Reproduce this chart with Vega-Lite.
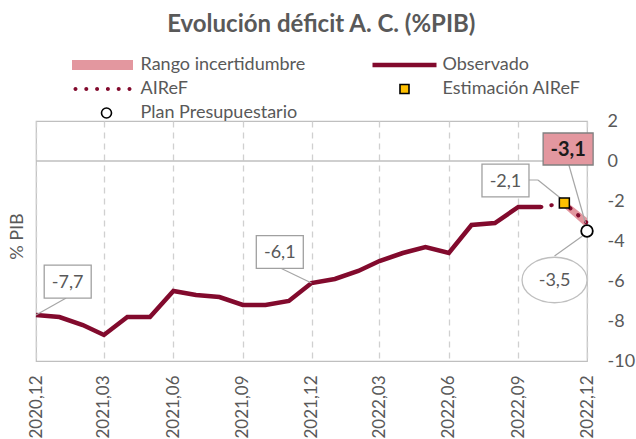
{
  "$schema": "https://vega.github.io/schema/vega-lite/v6.json",
  "width": 551,
  "height": 240,
  "autosize": {"type": "none"},
  "padding": {"left": 36, "top": 121, "right": 49, "bottom": 78},
  "background": "white",
  "title": {
    "text": "Evolución déficit A. C. (%PIB)",
    "font": "Lato",
    "fontSize": 24,
    "fontWeight": "bold",
    "color": "#595959",
    "anchor": "middle",
    "frame": "bounds",
    "offset": 17
  },
  "config": {
    "view": {"stroke": "#BFBFBF", "strokeWidth": 1.2},
    "text": {"font": "Lato"},
    "axis": {"labelFont": "Lato", "titleFont": "Lato"}
  },
  "datasets": {
    "obs": [
      {"date": "2020-12-01", "value": -7.7},
      {"date": "2021-01-01", "value": -7.8},
      {"date": "2021-02-01", "value": -8.2},
      {"date": "2021-03-01", "value": -8.7},
      {"date": "2021-04-01", "value": -7.8},
      {"date": "2021-05-01", "value": -7.8},
      {"date": "2021-06-01", "value": -6.5},
      {"date": "2021-07-01", "value": -6.7},
      {"date": "2021-08-01", "value": -6.8},
      {"date": "2021-09-01", "value": -7.2},
      {"date": "2021-10-01", "value": -7.2},
      {"date": "2021-11-01", "value": -7.0},
      {"date": "2021-12-01", "value": -6.1},
      {"date": "2022-01-01", "value": -5.9},
      {"date": "2022-02-01", "value": -5.5},
      {"date": "2022-03-01", "value": -5.0},
      {"date": "2022-04-01", "value": -4.6},
      {"date": "2022-05-01", "value": -4.3},
      {"date": "2022-06-01", "value": -4.6},
      {"date": "2022-07-01", "value": -3.2},
      {"date": "2022-08-01", "value": -3.1},
      {"date": "2022-09-01", "value": -2.3},
      {"date": "2022-10-01", "value": -2.3}
    ],
    "airef": [
      {"date": "2022-10-01", "value": -2.3},
      {"date": "2022-11-01", "value": -2.1},
      {"date": "2022-12-01", "value": -3.1}
    ],
    "band": [
      {"date": "2022-11-01", "lo": -2.35, "hi": -1.95},
      {"date": "2022-12-01", "lo": -3.35, "hi": -2.85}
    ],
    "est": [{"date": "2022-11-01", "value": -2.1}],
    "plan": [{"date": "2022-12-01", "value": -3.5}],
    "leaders": [
      {"d1": "2021-01-10", "v1": -6.85, "d2": "2020-12-01", "v2": -7.7},
      {"d1": "2021-10-20", "v1": -5.34, "d2": "2021-12-01", "v2": -6.1},
      {"d1": "2022-08-15", "v1": -0.95, "d2": "2022-09-27", "v2": -0.95},
      {"d1": "2022-09-27", "v1": -0.95, "d2": "2022-10-30", "v2": -1.95},
      {"d1": "2022-11-07", "v1": -0.2, "d2": "2022-11-29", "v2": -3.1},
      {"d1": "2022-10-19", "v1": -4.75, "d2": "2022-11-25", "v2": -3.75}
    ],
    "labels": [
      {"label": "-7,7", "d": "2021-01-12", "v": -6.03, "kind": "box"},
      {"label": "-6,1", "d": "2021-10-20", "v": -4.55, "kind": "box"},
      {"label": "-2,1", "d": "2022-08-15", "v": -0.975, "kind": "box"},
      {"label": "-3,1", "d": "2022-11-06", "v": 0.6, "kind": "bold"},
      {"label": "-3,5", "d": "2022-10-19", "v": -5.95, "kind": "ellipse"}
    ],
    "legend": [
      {"series": "Rango incertidumbre"},
      {"series": "AIReF"},
      {"series": "Plan Presupuestario"},
      {"series": "Observado"},
      {"series": "Estimación AIReF"}
    ]
  },
  "layer": [
    {
      "data": {"values": [{}]},
      "mark": {"type": "rule", "color": "#BFBFBF", "strokeWidth": 1.5},
      "encoding": {
        "y": {
          "datum": 0,
          "type": "quantitative",
          "scale": {"domain": [-10, 2], "nice": false, "zero": false},
          "axis": {
            "orient": "left",
            "title": "% PIB",
            "labels": false,
            "ticks": false,
            "tickSize": 0,
            "domain": false,
            "grid": false,
            "titleFontSize": 18,
            "titleFontWeight": "normal",
            "titleColor": "#595959",
            "titlePadding": 10,
            "titleY": 115
          }
        }
      }
    },
    {
      "layer": [
        {
          "data": {"name": "band"},
          "mark": {"type": "area", "color": "#E3979F"},
          "encoding": {
            "x": {
              "field": "date",
              "type": "temporal",
              "scale": {
                "type": "utc",
                "nice": false,
                "domain": [
                  {"year": 2020, "month": 12, "date": 1, "utc": true},
                  {"year": 2022, "month": 12, "date": 1, "utc": true}
                ]
              },
              "axis": {
                "title": null,
                "values": [
                  {"year": 2020, "month": 12, "date": 1, "utc": true},
                  {"year": 2021, "month": 3, "date": 1, "utc": true},
                  {"year": 2021, "month": 6, "date": 1, "utc": true},
                  {"year": 2021, "month": 9, "date": 1, "utc": true},
                  {"year": 2021, "month": 12, "date": 1, "utc": true},
                  {"year": 2022, "month": 3, "date": 1, "utc": true},
                  {"year": 2022, "month": 6, "date": 1, "utc": true},
                  {"year": 2022, "month": 9, "date": 1, "utc": true},
                  {"year": 2022, "month": 12, "date": 1, "utc": true}
                ],
                "tickCount": 30,
                "labelExpr": "utcFormat(datum.value, '%Y,%m')",
                "labelAngle": -90,
                "labelFontSize": 17,
                "labelColor": "#595959",
                "labelPadding": 14,
                "labelFlush": false,
                "labelOverlap": false,
                "ticks": false,
                "tickSize": 0,
                "domain": false,
                "grid": true,
                "gridColor": "#D0D0D0",
                "gridDash": [6, 5],
                "gridWidth": 1.3
              }
            },
            "y": {
              "field": "lo",
              "type": "quantitative",
              "scale": {"domain": [-10, 2], "nice": false, "zero": false},
              "axis": {
                "orient": "right",
                "title": null,
                "values": [2, 0, -2, -4, -6, -8, -10],
                "tickCount": 20,
                "labelExpr": "'' + datum.value",
                "labelFontSize": 18,
                "labelColor": "#595959",
                "labelPadding": 20,
                "labelAlign": "left",
                "labelFlush": false,
                "labelOverlap": false,
                "ticks": false,
                "tickSize": 0,
                "domain": false,
                "grid": false
              }
            },
            "y2": {"field": "hi"}
          }
        },
        {
          "data": {"name": "obs"},
          "mark": {"type": "line", "color": "#820A2D", "strokeWidth": 4.5},
          "encoding": {
            "x": {"field": "date", "type": "temporal"},
            "y": {"field": "value", "type": "quantitative"}
          }
        },
        {
          "data": {"name": "airef"},
          "mark": {"type": "line", "color": "#820A2D", "strokeWidth": 4, "strokeDash": [0.5, 10], "strokeCap": "round"},
          "encoding": {
            "x": {"field": "date", "type": "temporal"},
            "y": {"field": "value", "type": "quantitative"}
          }
        },
        {
          "data": {"name": "leaders"},
          "mark": {"type": "rule", "color": "#A6A6A6", "strokeWidth": 1.2},
          "encoding": {
            "x": {"field": "d1", "type": "temporal"},
            "x2": {"field": "d2"},
            "y": {"field": "v1", "type": "quantitative"},
            "y2": {"field": "v2"}
          }
        },
        {
          "data": {"name": "est"},
          "mark": {"type": "point", "shape": "square", "size": 100, "filled": true, "fill": "#FFC000", "stroke": "#000000", "strokeWidth": 1.5, "opacity": 1},
          "encoding": {
            "x": {"field": "date", "type": "temporal"},
            "y": {"field": "value", "type": "quantitative"}
          }
        },
        {
          "data": {"name": "plan"},
          "mark": {"type": "point", "shape": "circle", "size": 135, "filled": true, "fill": "#FFFFFF", "stroke": "#000000", "strokeWidth": 1.8, "opacity": 1},
          "encoding": {
            "x": {"field": "date", "type": "temporal"},
            "y": {"field": "value", "type": "quantitative"}
          }
        },
        {
          "data": {"name": "labels"},
          "transform": [{"filter": "datum.kind === 'box'"}],
          "mark": {"type": "point", "shape": "M-1,-0.7H1V0.7H-1Z", "size": 2209, "filled": true, "fill": "#FFFFFF", "stroke": "#A0A0A0", "strokeWidth": 1.3, "opacity": 1},
          "encoding": {
            "x": {"field": "d", "type": "temporal"},
            "y": {"field": "v", "type": "quantitative"}
          }
        },
        {
          "data": {"name": "labels"},
          "transform": [{"filter": "datum.kind === 'bold'"}],
          "mark": {"type": "point", "shape": "M-1,-0.64H1V0.64H-1Z", "size": 2500, "filled": true, "fill": "#E3979F", "stroke": "#808080", "strokeWidth": 1.3, "opacity": 1},
          "encoding": {
            "x": {"field": "d", "type": "temporal"},
            "y": {"field": "v", "type": "quantitative"}
          }
        },
        {
          "data": {"name": "labels"},
          "transform": [{"filter": "datum.kind === 'ellipse'"}],
          "mark": {"type": "point", "shape": "M-1,0C-1,-0.3866 -0.5523,-0.7 0,-0.7C0.5523,-0.7 1,-0.3866 1,0C1,0.3866 0.5523,0.7 0,0.7C-0.5523,0.7 -1,0.3866 -1,0Z", "size": 4225, "filled": true, "fill": "#FFFFFF", "stroke": "#BFBFBF", "strokeWidth": 1.3, "opacity": 1},
          "encoding": {
            "x": {"field": "d", "type": "temporal"},
            "y": {"field": "v", "type": "quantitative"}
          }
        },
        {
          "data": {"name": "labels"},
          "transform": [{"filter": "datum.kind !== 'bold'"}],
          "mark": {"type": "text", "fontSize": 18, "color": "#595959", "align": "center", "baseline": "middle", "dy": 1},
          "encoding": {
            "x": {"field": "d", "type": "temporal"},
            "y": {"field": "v", "type": "quantitative"},
            "text": {"field": "label"}
          }
        },
        {
          "data": {"name": "labels"},
          "transform": [{"filter": "datum.kind === 'bold'"}],
          "mark": {"type": "text", "fontSize": 20, "fontWeight": "bold", "color": "#1A1A1A", "align": "center", "baseline": "middle", "dy": 1},
          "encoding": {
            "x": {"field": "d", "type": "temporal"},
            "y": {"field": "v", "type": "quantitative"},
            "text": {"field": "label"}
          }
        },
        {
          "data": {"name": "legend"},
          "mark": {"type": "point", "opacity": 0, "filled": true},
          "encoding": {
            "fill": {
              "field": "series",
              "type": "nominal",
              "scale": {
                "domain": ["Rango incertidumbre", "AIReF", "Plan Presupuestario", "Observado", "Estimación AIReF"],
                "range": ["#E3979F", "#820A2D", "#FFFFFF", "#820A2D", "#FFC000"]
              },
              "legend": {
                "title": null,
                "orient": "none",
                "legendX": 55.5,
                "legendY": -67,
                "columns": 2,
                "columnPadding": 63,
                "rowPadding": 4,
                "symbolSize": 400,
                "symbolOpacity": 1,
                "symbolStrokeWidth": 1.6,
                "labelFont": "Lato",
                "labelFontSize": 18,
                "labelColor": "#595959",
                "labelOffset": 27,
                "labelLimit": 400,
                "padding": 0
              }
            },
            "stroke": {
              "field": "series",
              "type": "nominal",
              "scale": {
                "domain": ["Rango incertidumbre", "AIReF", "Plan Presupuestario", "Observado", "Estimación AIReF"],
                "range": ["transparent", "transparent", "#000000", "transparent", "#000000"]
              },
              "legend": {
                "title": null,
                "orient": "none",
                "legendX": 55.5,
                "legendY": -67,
                "columns": 2,
                "columnPadding": 63,
                "rowPadding": 4,
                "symbolSize": 400,
                "symbolOpacity": 1,
                "symbolStrokeWidth": 1.6,
                "labelFont": "Lato",
                "labelFontSize": 18,
                "labelColor": "#595959",
                "labelOffset": 27,
                "labelLimit": 400,
                "padding": 0
              }
            },
            "shape": {
              "field": "series",
              "type": "nominal",
              "scale": {
                "domain": ["Rango incertidumbre", "AIReF", "Plan Presupuestario", "Observado", "Estimación AIReF"],
                "range": [
                  "M-3.05,-0.5H3.05V0.5H-3.05Z",
                  "M-2.9,0c0,-0.11 0.09,-0.2 0.2,-0.2c0.11,0 0.2,0.09 0.2,0.2c0,0.11 -0.09,0.2 -0.2,0.2c-0.11,0 -0.2,-0.09 -0.2,-0.2ZM-1.82,0c0,-0.11 0.09,-0.2 0.2,-0.2c0.11,0 0.2,0.09 0.2,0.2c0,0.11 -0.09,0.2 -0.2,0.2c-0.11,0 -0.2,-0.09 -0.2,-0.2ZM-0.74,0c0,-0.11 0.09,-0.2 0.2,-0.2c0.11,0 0.2,0.09 0.2,0.2c0,0.11 -0.09,0.2 -0.2,0.2c-0.11,0 -0.2,-0.09 -0.2,-0.2ZM0.34,0c0,-0.11 0.09,-0.2 0.2,-0.2c0.11,0 0.2,0.09 0.2,0.2c0,0.11 -0.09,0.2 -0.2,0.2c-0.11,0 -0.2,-0.09 -0.2,-0.2ZM1.42,0c0,-0.11 0.09,-0.2 0.2,-0.2c0.11,0 0.2,0.09 0.2,0.2c0,0.11 -0.09,0.2 -0.2,0.2c-0.11,0 -0.2,-0.09 -0.2,-0.2ZM2.5,0c0,-0.11 0.09,-0.2 0.2,-0.2c0.11,0 0.2,0.09 0.2,0.2c0,0.11 -0.09,0.2 -0.2,0.2c-0.11,0 -0.2,-0.09 -0.2,-0.2Z",
                  "M-0.1,0c0,-0.276 0.224,-0.5 0.5,-0.5c0.276,0 0.5,0.224 0.5,0.5c0,0.276 -0.224,0.5 -0.5,0.5c-0.276,0 -0.5,-0.224 -0.5,-0.5Z",
                  "M-3.2,-0.235H3.2V0.235H-3.2Z",
                  "M-0.45,-0.45H0.45V0.45H-0.45Z"
                ]
              },
              "legend": {
                "title": null,
                "orient": "none",
                "legendX": 55.5,
                "legendY": -67,
                "columns": 2,
                "columnPadding": 63,
                "rowPadding": 4,
                "symbolSize": 400,
                "symbolOpacity": 1,
                "symbolStrokeWidth": 1.6,
                "labelFont": "Lato",
                "labelFontSize": 18,
                "labelColor": "#595959",
                "labelOffset": 27,
                "labelLimit": 400,
                "padding": 0
              }
            }
          }
        }
      ]
    }
  ],
  "resolve": {"scale": {"y": "independent"}}
}
